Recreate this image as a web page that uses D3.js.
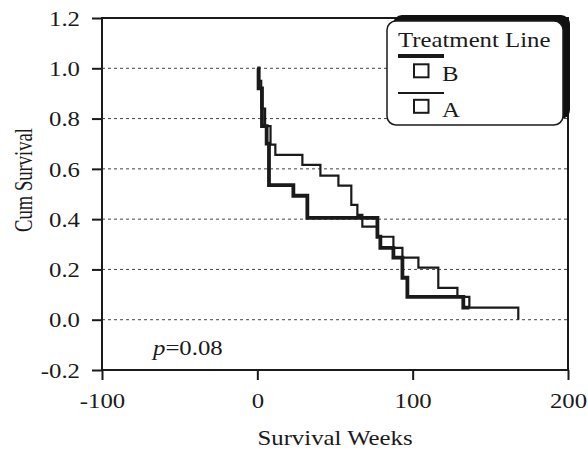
<!DOCTYPE html>
<html>
<head>
<meta charset="utf-8">
<script src="https://cdn.jsdelivr.net/npm/d3@7"></script>
<style>
  html, body { margin: 0; padding: 0; background: #fff; }
  svg { display: block; }
  text { font-family: "Liberation Serif", "Times New Roman", serif; fill: #1a1a1a; }
</style>
</head>
<body>
<svg id="chart" width="588" height="453"></svg>
<script>
// ---- data ----
const xTickValues = [-100, 0, 100, 200];
const xTickLabels = ["-100", "0", "100", "200"];
const yTickValues = [-0.2, 0.0, 0.2, 0.4, 0.6, 0.8, 1.0, 1.2];
const yTickLabels = ["-0.2", "0.0", "0.2", "0.4", "0.6", "0.8", "1.0", "1.2"];
const gridValues = [0.0, 0.2, 0.4, 0.6, 0.8, 1.0];

// Treatment line A (thin): survival after each step time
const timesA = [0, 1.2, 2.5, 5, 8.5, 11.6, 29, 40.6, 52.2, 60.5, 64.4, 67.6, 77.3, 87.6, 93.4, 103.7, 116.5, 128.8, 136.5, 168];
const survA  = [1.0, 0.95, 0.84, 0.77, 0.696, 0.656, 0.616, 0.573, 0.533, 0.457, 0.417, 0.37, 0.33, 0.286, 0.247, 0.207, 0.127, 0.091, 0.048, 0.0];

// Treatment line B (thick)
const timesB = [0, 0.8, 3, 6, 7.5, 23.2, 32.2, 77.3, 79.2, 87.6, 93.4, 96.6, 132.6, 136.5];
const survB  = [1.0, 0.92, 0.77, 0.70, 0.535, 0.493, 0.405, 0.33, 0.286, 0.247, 0.167, 0.091, 0.048, 0.048];

const legendLabels = ["B", "A"];
const pValueText = "0.08";

// ---- layout ----
const SX = 1.18;         // horizontal glyph stretch of the reference
const FS = 21;
const FSR = 18.6;        // rotated title size
const SXR = 1.36;
const ink = "#1a1a1a";
const svg = d3.select("#chart");

const x = d3.scaleLinear().domain([-100, 200]).range([102, 568]);
const y = d3.scaleLinear().domain([-0.2, 1.2]).range([370, 18]);

// grid
svg.append("g").selectAll("line").data(gridValues).join("line")
  .attr("x1", x(-100)).attr("x2", x(200))
  .attr("y1", d => y(d)).attr("y2", d => y(d))
  .attr("stroke", "#444").attr("stroke-width", 1).attr("stroke-dasharray", "3,3");

// curves
const line = d3.line().x(d => x(d[0])).y(d => y(d[1])).curve(d3.curveStepAfter);
const ptsA = timesA.map((t, i) => [t, survA[i]]);
const ptsB = timesB.map((t, i) => [t, survB[i]]);
svg.append("path").attr("d", line(ptsA)).attr("fill", "none")
  .attr("stroke", ink).attr("stroke-width", 2.2);
svg.append("path").attr("d", line(ptsB)).attr("fill", "none")
  .attr("stroke", ink).attr("stroke-width", 3.8);

// frame
svg.append("rect").attr("x", x(-100)).attr("y", y(1.2))
  .attr("width", x(200) - x(-100)).attr("height", y(-0.2) - y(1.2))
  .attr("fill", "none").attr("stroke", ink).attr("stroke-width", 2);

function stretchTexts(sel) {
  sel.selectAll("text").each(function () {
    const t = d3.select(this);
    const xv = +t.attr("x") || 0;
    t.attr("x", xv / SX).attr("transform", `scale(${SX},1)`);
  });
}

// y axis
const yAxis = d3.axisLeft(y).tickValues(yTickValues)
  .tickFormat((d, i) => yTickLabels[i]).tickSize(10).tickSizeOuter(0).tickPadding(12);
const gy = svg.append("g").attr("transform", `translate(${x(-100)},0)`).call(yAxis);
gy.select(".domain").remove();
gy.selectAll(".tick line").attr("stroke", ink).attr("stroke-width", 2);
gy.selectAll(".tick text").attr("font-size", FS).attr("font-family", "Liberation Serif").attr("fill", ink).attr("dy", "0.34em");
stretchTexts(gy);

// x axis
const xAxis = d3.axisBottom(x).tickValues(xTickValues)
  .tickFormat((d, i) => xTickLabels[i]).tickSize(10).tickSizeOuter(0).tickPadding(13);
const gx = svg.append("g").attr("transform", `translate(0,${y(-0.2)})`).call(xAxis);
gx.select(".domain").remove();
gx.selectAll(".tick line").attr("stroke", ink).attr("stroke-width", 2);
gx.selectAll(".tick text").attr("font-size", FS).attr("font-family", "Liberation Serif").attr("fill", ink);
stretchTexts(gx);

// axis titles
function stretchedText(px, py, str, anchor, rotate) {
  const g = svg.append("g").attr("transform",
    rotate ? `translate(${px},${py}) rotate(-90) scale(1,${SXR})` : `translate(${px},${py}) scale(${SX},1)`);
  return g.append("text").attr("text-anchor", anchor).attr("font-size", rotate ? FSR : FS).text(str);
}
stretchedText(335, 445, "Survival Weeks", "middle", false);
stretchedText(32, 180, "Cum Survival", "middle", true);

// p value
const pt = stretchedText(153, 355, "", "start", false);
pt.append("tspan").attr("font-style", "italic").text("p");
pt.append("tspan").text("=" + pValueText);

// legend
svg.append("rect").attr("x", 393).attr("y", 15).attr("width", 177).attr("height", 104)
  .attr("rx", 9).attr("fill", "#111");
svg.append("rect").attr("x", 387).attr("y", 21).attr("width", 176).attr("height", 104)
  .attr("rx", 9).attr("fill", "#fff").attr("stroke", ink).attr("stroke-width", 1.5);
stretchedText(398, 47, "Treatment Line", "start", false);

const legendRows = [
  { label: legendLabels[0], lineY: 56, w: 3.8, boxY: 64.3, textY: 81 },
  { label: legendLabels[1], lineY: 93, w: 2.2, boxY: 99.8, textY: 117 }
];
legendRows.forEach(r => {
  svg.append("line").attr("x1", 398).attr("x2", 444).attr("y1", r.lineY).attr("y2", r.lineY)
    .attr("stroke", ink).attr("stroke-width", r.w);
  svg.append("rect").attr("x", 414).attr("y", r.boxY).attr("width", 14.5).attr("height", 13)
    .attr("fill", "#fff").attr("stroke", ink).attr("stroke-width", 2);
  stretchedText(442, r.textY, r.label, "start", false);
});
</script>
</body>
</html>
